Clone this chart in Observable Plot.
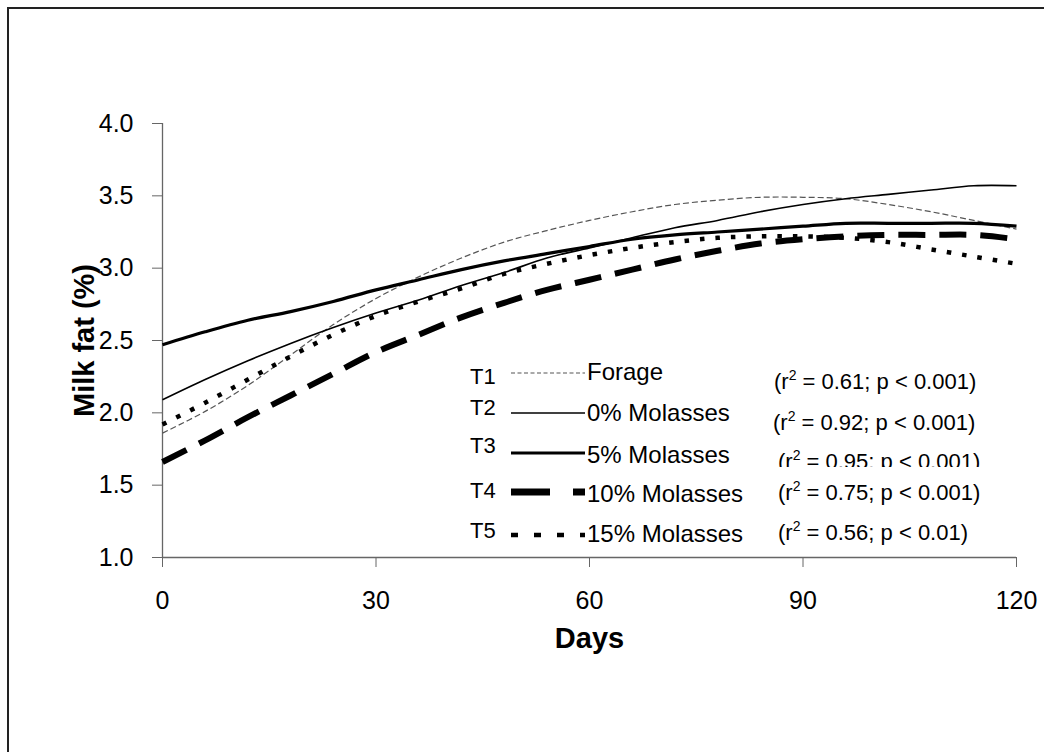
<!DOCTYPE html>
<html><head><meta charset="utf-8">
<script src="https://cdn.jsdelivr.net/npm/d3@7"></script>
<script src="https://cdn.jsdelivr.net/npm/@observablehq/plot@0.6"></script>
<style>
html,body{margin:0;padding:0;background:#fff;overflow:hidden;width:1044px;height:752px}
#wrap{position:relative;width:1044px;height:752px;font-family:"Liberation Sans",Arial,sans-serif}
#border{position:absolute;left:7px;top:7px;width:1100px;height:800px;border-left:2px solid #222;border-top:2px solid #222;box-sizing:border-box}
#chart{position:absolute;left:0;top:0}
#legend{position:absolute;left:0;top:0;pointer-events:none}
</style></head><body>
<div id="wrap"><div id="border"></div><div id="chart"></div><svg id="legend" width="1044" height="752"></svg></div>
<script>
// ---- data ----
const days = [0,6,12,18,24,30,36,42,48,54,60,66,72,78,84,90,96,102,108,114,120];
const t1Forage = [1.86,2.01,2.19,2.40,2.61,2.79,2.94,3.07,3.18,3.26,3.33,3.39,3.44,3.47,3.49,3.49,3.48,3.44,3.39,3.33,3.27];
const t2Mol0   = [2.09,2.23,2.36,2.48,2.59,2.69,2.78,2.88,2.97,3.07,3.14,3.21,3.28,3.33,3.39,3.44,3.48,3.51,3.54,3.57,3.57];
const t3Mol5   = [2.47,2.56,2.64,2.70,2.77,2.85,2.92,2.99,3.05,3.10,3.15,3.20,3.23,3.25,3.27,3.29,3.31,3.31,3.31,3.31,3.29];
const t4Mol10  = [1.66,1.81,1.97,2.12,2.27,2.42,2.54,2.66,2.76,2.85,2.92,2.99,3.06,3.12,3.17,3.20,3.22,3.23,3.23,3.23,3.20];
const t5Mol15  = [1.92,2.07,2.23,2.39,2.54,2.67,2.77,2.86,2.96,3.03,3.09,3.14,3.18,3.21,3.22,3.22,3.21,3.18,3.13,3.08,3.03];
const treatments = ["T1","T2","T3","T4","T5"];
const names = ["Forage","0% Molasses","5% Molasses","10% Molasses","15% Molasses"];
const r2 = ["0.61","0.92","0.95","0.75","0.56"];
const pText = ["p < 0.001","p < 0.001","p < 0.001","p < 0.001","p < 0.01"];
const xTicks = [0,30,60,90,120];
const yTicks = [1.0,1.5,2.0,2.5,3.0,3.5,4.0];

// ---- build table ----
const seriesVals = [t1Forage,t2Mol0,t3Mol5,t4Mol10,t5Mol15];
const table = [];
seriesVals.forEach((vals,i)=>vals.forEach((v,j)=>table.push({day:days[j],fat:v,t:treatments[i]})));

const styles = {
  T1:{stroke:"#555",strokeWidth:1.2,strokeDasharray:"6,3"},
  T2:{stroke:"#000",strokeWidth:1.6},
  T3:{stroke:"#000",strokeWidth:3.2},
  T4:{stroke:"#000",strokeWidth:6,strokeDasharray:"27,14"},
  T5:{stroke:"#000",strokeWidth:4.5,strokeDasharray:"4.5,11"}
};

const lineMarks = treatments.map(t=>Plot.line(table.filter(d=>d.t===t),{x:"day",y:"fat",curve:"catmull-rom",strokeLinecap:"butt",strokeLinejoin:"round",...styles[t]}));

const chart = Plot.plot({
  width:1044, height:752,
  marginLeft:162, marginRight:28, marginTop:123, marginBottom:195,
  style:{fontFamily:"'Liberation Sans', Arial, sans-serif", fontSize:"24px", background:"transparent", color:"#000"},
  x:{domain:[0,120]},
  y:{domain:[1,4]},
  marks:[
    Plot.axisX({ticks:xTicks, tickSize:10, tickPadding:24, stroke:"#666", fill:"#000", label:null, fontSize:25}),
    Plot.axisY({ticks:yTicks, tickSize:10, tickPadding:19, stroke:"#666", fill:"#000", tickFormat:d3.format(".1f"), label:null, fontSize:25}),
    Plot.ruleX([0],{stroke:"#666",strokeWidth:1.3}),
    Plot.ruleY([1],{stroke:"#666",strokeWidth:1.3}),
    ...lineMarks,
    Plot.text(["Days"],{frameAnchor:"bottom", dy:90, fontWeight:"bold", fontSize:29, fill:"#000"}),
    Plot.text(["Milk fat (%)"],{frameAnchor:"left", textAnchor:"middle", dx:-78, rotate:-90, fontWeight:"bold", fontSize:29, fill:"#000"})
  ]
});
document.getElementById("chart").appendChild(chart);

// ---- legend (inside plot area) ----
const lg = d3.select("#legend");
const ff = "Liberation Sans, Arial, sans-serif";
const rowLine = [373,413,453,492,535];
const tBase = [384,415,453,498,538];
const nameBase = [380,421,463,502,542];
const rBase = [389,430,469,500,540];
const legendDash = {T1:"4,2.5",T2:null,T3:null,T4:"39,23",T5:"7,16"};
const legendWidth = {T1:1.2,T2:1.6,T3:3.2,T4:7,T5:4.5};
const defs = lg.append("defs");
defs.append("clipPath").attr("id","clipT3").append("rect").attr("x",700).attr("y",430).attr("width",340).attr("height",37);
treatments.forEach((t,i)=>{
  lg.append("text").attr("x",470).attr("y",tBase[i]).attr("font-size",22).attr("font-family",ff).text(t);
  lg.append("line").attr("x1",511).attr("x2",585).attr("y1",rowLine[i]).attr("y2",rowLine[i])
    .attr("stroke",styles[t].stroke).attr("stroke-width",legendWidth[t])
    .attr("stroke-dasharray",legendDash[t]);
  lg.append("text").attr("x",587).attr("y",nameBase[i]).attr("font-size",24).attr("font-family",ff).text(names[i]);
  const rt = lg.append("text").attr("x",i===0?774:(i===1?773:778)).attr("y",rBase[i]).attr("font-size",22).attr("font-family",ff);
  if (i===2) rt.attr("clip-path","url(#clipT3)");
  rt.append("tspan").text("(r");
  rt.append("tspan").attr("dy",-9).attr("font-size",14).text("2");
  rt.append("tspan").attr("dy",9).text(" = " + r2[i] + "; " + pText[i] + ")");
});
</script>
</body></html>
